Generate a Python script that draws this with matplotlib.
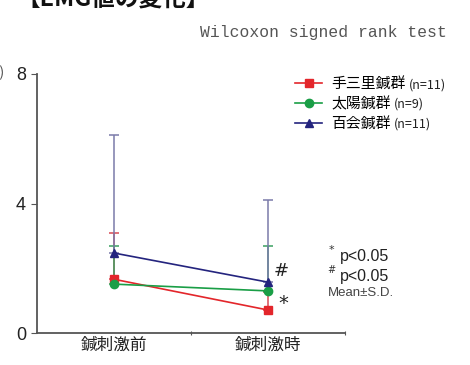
import matplotlib
matplotlib.use("Agg")
import matplotlib.pyplot as plt

plt.rcParams['font.family'] = ['Noto Sans CJK JP', 'DejaVu Sans']

# Data
phases = ["鍼刺激前", "鍼刺激時"]
group_names = ["手三里鍼群", "太陽鍼群", "百会鍼群"]
group_n = ["(n=11)", "(n=9)", "(n=11)"]
means = {
    "手三里鍼群": [1.66, 0.71],
    "太陽鍼群": [1.51, 1.30],
    "百会鍼群": [2.47, 1.57],
}
sds = {
    "手三里鍼群": [1.44, 0.55],
    "太陽鍼群": [1.19, 1.40],
    "百会鍼群": [3.64, 2.53],
}
y_ticks = [0, 4, 8]

colors = {"手三里鍼群": "#e3262b", "太陽鍼群": "#1a9e46", "百会鍼群": "#24247e"}
err_colors = {"手三里鍼群": "#d84a55", "太陽鍼群": "#3aa060", "百会鍼群": "#7a7aaa"}
markers = {"手三里鍼群": "s", "太陽鍼群": "o", "百会鍼群": "^"}

fig = plt.figure(figsize=(4.7, 3.65), dpi=100)
ax = fig.add_axes([37 / 470, 32 / 365, 308 / 470, 259 / 365])

xs = list(range(len(phases)))
handles = []
for name in group_names:
    m = means[name]
    s = sds[name]
    ax.errorbar(xs, m, yerr=[[0] * len(m), s], fmt="none", ecolor=err_colors[name],
                elinewidth=1.1, capsize=3.5, capthick=1.1, zorder=2)
    h, = ax.plot(xs, m, color=colors[name], marker=markers[name], markersize=6,
                 linewidth=1.2, zorder=3)
    handles.append(h)

ax.set_xlim(-0.5, 1.5)
ax.set_ylim(0, 8)
ax.set_yticks(y_ticks)
ax.set_yticklabels([str(v) for v in y_ticks], fontsize=13, color="#222222",
                   family="Liberation Sans")
ax.set_xticks([0.5, 1.5])
ax.set_xticklabels(["", ""])
ax.set_xticks(xs, minor=True)
ax.set_xticklabels(phases, minor=True, fontsize=12, color="#222222")
ax.tick_params(axis="x", which="minor", length=0, pad=3)
ax.tick_params(axis="x", which="major", length=3, direction="inout", color="#555555")
ax.tick_params(axis="y", length=4, color="#555555", pad=4)
for side in ("top", "right"):
    ax.spines[side].set_visible(False)
for side in ("left", "bottom"):
    ax.spines[side].set_color("#555555")
    ax.spines[side].set_linewidth(1.3)

# Significance markers
ax.text(1.088, 1.91, "#", fontsize=13, ha="center", va="center", color="#222222",
        family="DejaVu Sans")
ax.text(1.10, 0.92, "*", fontsize=14, ha="center", va="center", color="#222222",
        family="DejaVu Sans")

# Legend
leg = fig.legend(handles, group_names, loc="upper left",
                 bbox_to_anchor=(288 / 470, 1 - 70 / 365), frameon=False,
                 fontsize=10.7, handlelength=1.8, handletextpad=0.6,
                 labelspacing=0.38, borderpad=0)
fig.canvas.draw()
renderer = fig.canvas.get_renderer()
for t, n in zip(leg.get_texts(), group_n):
    bb = t.get_window_extent(renderer)
    fig.text((bb.x1 + 3) / 470, (bb.y0 + bb.y1) / 2 / 365, n, fontsize=9,
             ha="left", va="center", color="#222222")

# Notes
fig.text(200 / 470, 1 - 33 / 365, "Wilcoxon signed rank test", fontsize=11.8,
         family="Liberation Mono", color="#555555", ha="left", va="center")
fig.text(331 / 470, 1 - 250 / 365, "*", fontsize=8, color="#333333", ha="center",
         va="center", family="DejaVu Sans")
fig.text(340 / 470, 1 - 256 / 365, "p<0.05", fontsize=11.5, color="#222222",
         ha="left", va="center", family="Liberation Sans")
fig.text(331 / 470, 1 - 270 / 365, "#", fontsize=7, color="#333333", ha="center",
         va="center", family="DejaVu Sans")
fig.text(340 / 470, 1 - 276 / 365, "p<0.05", fontsize=11.5, color="#222222",
         ha="left", va="center", family="Liberation Sans")
fig.text(328 / 470, 1 - 293 / 365, "Mean±S.D.", fontsize=9.5, color="#444444",
         ha="left", va="center", family="Liberation Sans")

# Heading (runs off the top edge) and unit label (runs off the left edge)
fig.text(16 / 470, 1 + 1 / 365, "【EMG値の変化】", fontsize=17, fontweight="bold",
         color="#111111", ha="left", va="center")
fig.text(5 / 470, 1 - 73 / 365, "(mV)", fontsize=10, color="#444444",
         ha="right", va="center")

fig.savefig("out.png", dpi=100)
